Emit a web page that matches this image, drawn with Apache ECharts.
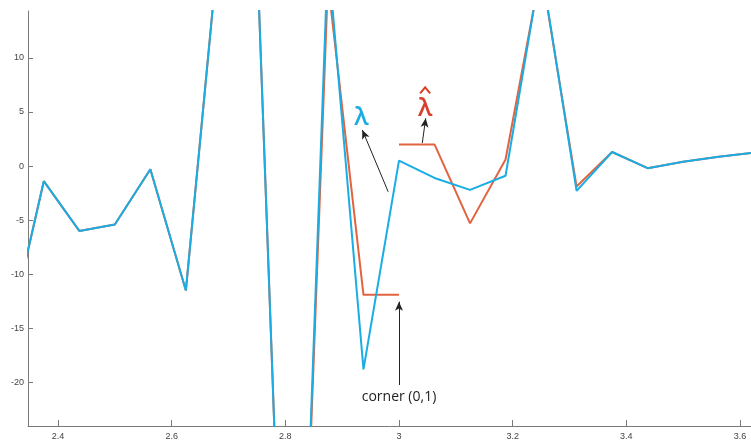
<!DOCTYPE html>
<html><head><meta charset="utf-8">
<script src="https://cdn.jsdelivr.net/npm/echarts@6/dist/echarts.min.js"></script>
<style>html,body{margin:0;padding:0;background:#fff}#c{width:751px;height:444px}</style>
</head><body><div id="c"></div>
<script>
// sample positions (x)
const xValues = [2.3125, 2.375, 2.4375, 2.5, 2.5625, 2.625, 2.6875, 2.75, 2.8125, 2.875, 2.9375, 3.0, 3.0625, 3.125, 3.1875, 3.25, 3.3125, 3.375, 3.4375, 3.5, 3.5625, 3.625];
// lambda (blue)
const lambda = [-15.8, -1.4, -6.0, -5.4, -0.3, -11.5, 23, 20, -70, 19.5, -18.8, 0.5, -1.1, -2.2, -0.9, 18.5, -2.3, 1.3, -0.2, 0.4, 0.85, 1.25];
// lambda hat (red), part 1 up to the corner, part 2 after
const hatX1 = [2.3125, 2.375, 2.4375, 2.5, 2.5625, 2.625, 2.6875, 2.75, 2.8125, 2.875, 2.9375, 3.0];
const hatY1 = [-15.8, -1.4, -6.0, -5.4, -0.3, -11.5, 23, 20, -70, 17, -11.9, -11.9];
const hatX2 = [3.0, 3.0625, 3.125, 3.1875, 3.25, 3.3125, 3.375, 3.4375, 3.5, 3.5625, 3.625];
const hatY2 = [2.0, 2.0, -5.3, 0.6, 18.2, -1.9, 1.3, -0.2, 0.4, 0.85, 1.25];
// ticks
const xTicks = [2.4, 2.6, 2.8, 3.0, 3.2, 3.4, 3.6];
const yTicks = [-20, -15, -10, -5, 0, 5, 10];

const BLUE = '#19ade3', RED = '#e2633f', RED_T = '#d8402c';
const pair = (xs, ys) => xs.map((x, i) => [x, ys[i]]);
const chart = echarts.init(document.getElementById('c'), null, {renderer: 'canvas'});
const axisLine = {show: true, onZero: false, lineStyle: {color: '#7a7a7a', width: 1}};
const arrowLine = (a, b) => [{coord: a}, {coord: b}];
chart.setOption({
  animation: false,
  grid: {left: 28, right: 0, top: 11, bottom: 18, containLabel: false},
  xAxis: {
    type: 'value', min: 2.3472, max: 3.6194, axisLine, splitLine: {show: false},
    axisTick: {inside: true, length: 6, customValues: xTicks, lineStyle: {color: '#7a7a7a'}},
    axisLabel: {customValues: xTicks, color: '#444', fontSize: 9, fontFamily: 'Liberation Sans', margin: 6,
      formatter: v => String(+v.toFixed(1))}
  },
  yAxis: {
    type: 'value', min: -24.03, max: 14.33, axisLine, splitLine: {show: false},
    axisTick: {inside: true, length: 5, customValues: yTicks, lineStyle: {color: '#7a7a7a'}},
    axisLabel: {customValues: yTicks, color: '#444', fontSize: 9, fontFamily: 'Liberation Sans', margin: 4}
  },
  series: [
    {type: 'line', data: pair(hatX1, hatY1), symbol: 'none', clip: true, lineStyle: {color: RED, width: 2}, z: 2},
    {type: 'line', data: pair(hatX2, hatY2), symbol: 'none', clip: true, lineStyle: {color: RED, width: 2}, z: 2},
    {type: 'line', data: pair(xValues, lambda), symbol: 'none', clip: true, lineStyle: {color: BLUE, width: 2}, z: 3,
      markLine: {
        silent: true, symbol: ['none', 'arrow'], symbolSize: [6, 9],
        lineStyle: {color: '#222', width: 1, type: 'solid'}, label: {show: false},
        data: [
          arrowLine([2.981, -2.38], [2.9355, 3.33]),
          arrowLine([3.041, 2.13], [3.047, 4.41]),
          arrowLine([3.0, -20.24], [3.0, -12.54])
        ]
      }}
  ]
});
const P = (x, y) => chart.convertToPixel({gridIndex: 0}, [x, y]);
const lam = P(2.934, 4.44), hatL = P(3.046, 5.3), hatC = P(3.046, 7.0), corner = P(3.0, -21.35);
chart.setOption({graphic: [
  {type: 'text', x: lam[0], y: lam[1], style: {text: 'λ', fill: BLUE, font: '600 25px "Open Sans"', align: 'center', verticalAlign: 'middle'}},
  {type: 'text', x: hatL[0], y: hatL[1], style: {text: 'λ', fill: RED_T, font: '600 25px "Open Sans"', align: 'center', verticalAlign: 'middle'}},
  {type: 'polyline', shape: {points: [[hatC[0] - 5, hatC[1] + 3], [hatC[0], hatC[1] - 3], [hatC[0] + 5, hatC[1] + 3]]},
    style: {stroke: RED_T, lineWidth: 2, fill: null}},
  {type: 'text', x: corner[0], y: corner[1], style: {text: 'corner (0,1)', fill: '#222', font: '14px "Open Sans"', align: 'center', verticalAlign: 'middle'}}
]});
</script></body></html>
